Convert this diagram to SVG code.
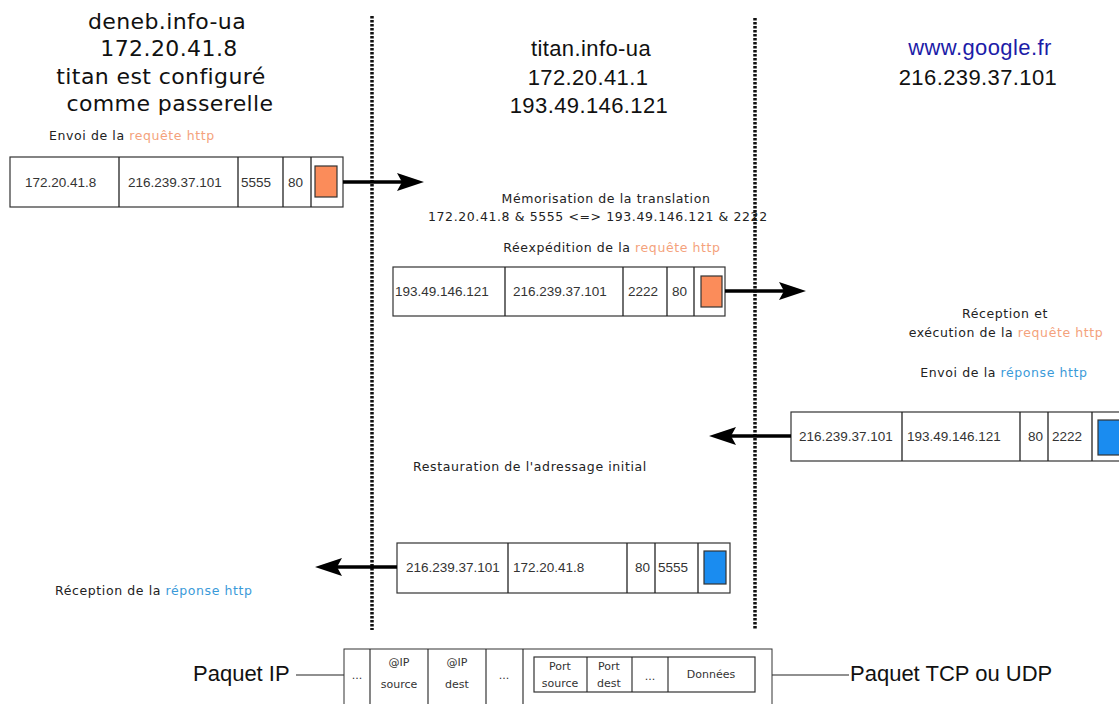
<svg xmlns="http://www.w3.org/2000/svg" width="1119" height="704" viewBox="0 0 1119 704">
<defs>
<style>
.head{font-family:"DejaVu Sans",sans-serif;font-size:22px;fill:#111;text-anchor:middle;letter-spacing:0.4px}
.head2{font-family:"Liberation Sans",Arial,sans-serif;font-size:22px;fill:#111;text-anchor:middle;letter-spacing:0.4px}
.lbl{font-family:"DejaVu Sans",sans-serif;font-size:12.5px;fill:#222;letter-spacing:0.6px}
.bx{font-family:"Liberation Sans",Arial,sans-serif;font-size:13.5px;fill:#333}
.sm{font-family:"DejaVu Sans",sans-serif;font-size:11px;fill:#333;text-anchor:middle}
.big{font-family:"Liberation Sans",Arial,sans-serif;font-size:22px;fill:#111}
.or{fill:#f4a27c}
.bl{fill:#3a9ad9}
.frame{fill:#fff;stroke:#333;stroke-width:1.2}
.div{stroke:#222;stroke-width:1.3}
.orange{fill:#fb8c5a;stroke:#333;stroke-width:1.2}
.blue{fill:#1a8cf0;stroke:#333;stroke-width:1.2}
.dash{stroke:#111;stroke-width:3.5;stroke-dasharray:2.5 1.5;fill:none}
.arr{stroke:#000;stroke-width:3.5;fill:none}
.thin{stroke:#222;stroke-width:1.1;fill:none}
</style>
</defs>
<rect width="1119" height="704" fill="#fff"/>

<g id="separators">
<line class="dash" x1="372" y1="16" x2="372" y2="630"/>
<line class="dash" x1="755" y1="18" x2="755" y2="630"/>
</g>

<g id="deneb">
<text class="head" x="167" y="29">deneb.info-ua</text>
<text class="head" x="169" y="56">172.20.41.8</text>
<text class="head" x="161" y="84">titan est configuré</text>
<text class="head" x="170" y="111">comme passerelle</text>
</g>

<g id="titan">
<text class="head2" x="591" y="56">titan.info-ua</text>
<text class="head2" x="588" y="85">172.20.41.1</text>
<text class="head2" x="589" y="113">193.49.146.121</text>
</g>

<g id="google">
<text class="head2" x="980" y="55" fill="#1c1ca8" style="fill:#1c1ca8">www.google.fr</text>
<text class="head2" x="978" y="85">216.239.37.101</text>
</g>

<g id="labels">
<text class="lbl" x="49" y="140">Envoi de la <tspan class="or">requête http</tspan></text>
<text class="lbl" x="606" y="203" text-anchor="middle">Mémorisation de la translation</text>
<text class="lbl" x="428" y="221">172.20.41.8 &amp; 5555 &lt;=&gt; 193.49.146.121 &amp; 2222</text>
<text class="lbl" x="612" y="252" text-anchor="middle">Réexpédition de la <tspan class="or">requête http</tspan></text>
<text class="lbl" x="1005" y="318" text-anchor="middle">Réception et</text>
<text class="lbl" x="1006" y="337" text-anchor="middle">exécution de la <tspan class="or">requête http</tspan></text>
<text class="lbl" x="1004" y="377" text-anchor="middle">Envoi de la <tspan class="bl">réponse http</tspan></text>
<text class="lbl" x="413" y="471">Restauration de l'adressage initial</text>
<text class="lbl" x="55" y="595">Réception de la <tspan class="bl">réponse http</tspan></text>
</g>

<g id="packet1">
<rect class="frame" x="10" y="157" width="333" height="50"/>
<line class="div" x1="119" y1="157" x2="119" y2="207"/>
<line class="div" x1="238" y1="157" x2="238" y2="207"/>
<line class="div" x1="283" y1="157" x2="283" y2="207"/>
<line class="div" x1="311" y1="157" x2="311" y2="207"/>
<rect class="orange" x="315" y="166" width="22" height="31"/>
<text class="bx" x="25" y="187">172.20.41.8</text>
<text class="bx" x="128" y="187">216.239.37.101</text>
<text class="bx" x="241" y="187">5555</text>
<text class="bx" x="288" y="187">80</text>
</g>

<g id="packet2">
<rect class="frame" x="393" y="267" width="332" height="49"/>
<line class="div" x1="505" y1="267" x2="505" y2="316"/>
<line class="div" x1="623" y1="267" x2="623" y2="316"/>
<line class="div" x1="667" y1="267" x2="667" y2="316"/>
<line class="div" x1="694" y1="267" x2="694" y2="316"/>
<rect class="orange" x="701" y="276" width="21" height="31"/>
<text class="bx" x="395" y="296">193.49.146.121</text>
<text class="bx" x="513" y="296">216.239.37.101</text>
<text class="bx" x="628" y="296">2222</text>
<text class="bx" x="672" y="296">80</text>
</g>

<g id="packet3">
<rect class="frame" x="791" y="412" width="340" height="49"/>
<line class="div" x1="902" y1="412" x2="902" y2="461"/>
<line class="div" x1="1020" y1="412" x2="1020" y2="461"/>
<line class="div" x1="1048" y1="412" x2="1048" y2="461"/>
<line class="div" x1="1092" y1="412" x2="1092" y2="461"/>
<rect class="blue" x="1098" y="420" width="24" height="35"/>
<text class="bx" x="799" y="441">216.239.37.101</text>
<text class="bx" x="907" y="441">193.49.146.121</text>
<text class="bx" x="1028" y="441">80</text>
<text class="bx" x="1052" y="441">2222</text>
</g>

<g id="packet4">
<rect class="frame" x="397" y="543" width="333" height="50"/>
<line class="div" x1="508" y1="543" x2="508" y2="593"/>
<line class="div" x1="627" y1="543" x2="627" y2="593"/>
<line class="div" x1="655" y1="543" x2="655" y2="593"/>
<line class="div" x1="698" y1="543" x2="698" y2="593"/>
<rect class="blue" x="704" y="551" width="22" height="33"/>
<text class="bx" x="406" y="572">216.239.37.101</text>
<text class="bx" x="513" y="572">172.20.41.8</text>
<text class="bx" x="635" y="572">80</text>
<text class="bx" x="658" y="572">5555</text>
</g>

<g id="connectors">
<line class="arr" x1="343" y1="182" x2="402" y2="182"/>
<polygon points="424,182 397,173 402,182 397,191" fill="#000"/>
<line class="arr" x1="725" y1="291" x2="785" y2="291"/>
<polygon points="806,291 779,282 784,291 779,300" fill="#000"/>
<line class="arr" x1="791" y1="436" x2="730" y2="436"/>
<polygon points="709,436 736,427 731,436 736,445" fill="#000"/>
<line class="arr" x1="397" y1="567" x2="336" y2="567"/>
<polygon points="315,567 342,558 337,567 342,576" fill="#000"/>
<line class="thin" x1="296" y1="675" x2="344" y2="675"/>
<line class="thin" x1="755" y1="675" x2="849" y2="675"/>
</g>

<g id="legend-ip">
<rect class="frame" x="344" y="649" width="428" height="60" style="stroke-width:1"/>
<line class="thin" x1="370" y1="649" x2="370" y2="704"/>
<line class="thin" x1="428" y1="649" x2="428" y2="704"/>
<line class="thin" x1="486" y1="649" x2="486" y2="704"/>
<line class="thin" x1="523" y1="649" x2="523" y2="704"/>
<text class="sm" x="357" y="679">...</text>
<text class="sm" x="399" y="666">@IP</text>
<text class="sm" x="399" y="688">source</text>
<text class="sm" x="457" y="666">@IP</text>
<text class="sm" x="457" y="688">dest</text>
<text class="sm" x="504" y="679">...</text>
</g>

<g id="legend-tcp">
<rect class="frame" x="534" y="657" width="221" height="35" style="stroke-width:1.2"/>
<line class="thin" x1="587" y1="657" x2="587" y2="692"/>
<line class="thin" x1="632" y1="657" x2="632" y2="692"/>
<line class="thin" x1="668" y1="657" x2="668" y2="692"/>
<text class="sm" x="560" y="670">Port</text>
<text class="sm" x="560" y="687">source</text>
<text class="sm" x="609" y="670">Port</text>
<text class="sm" x="609" y="687">dest</text>
<text class="sm" x="650" y="680">...</text>
<text class="sm" x="711" y="678">Données</text>
</g>

<g id="legend-labels">
<text class="big" x="193" y="681">Paquet IP</text>
<text class="big" x="850" y="681">Paquet TCP ou UDP</text>
</g>
</svg>
